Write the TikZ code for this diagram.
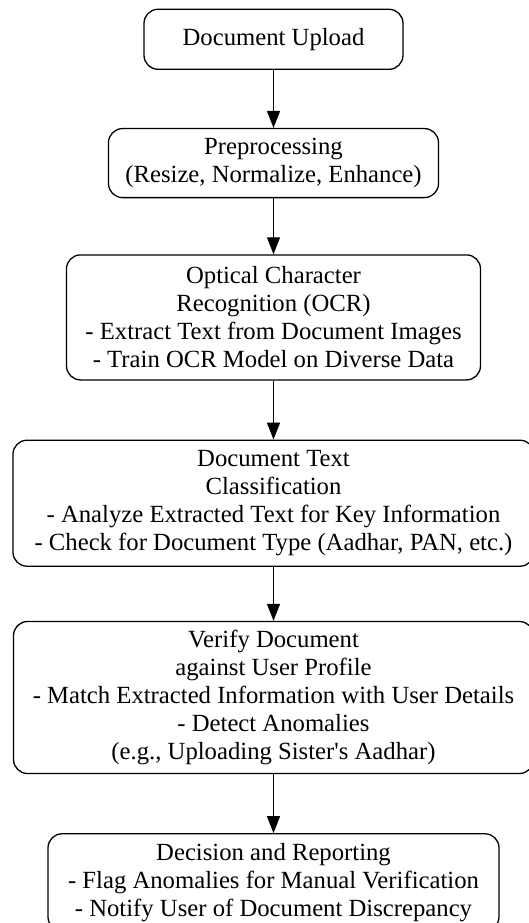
\documentclass[tikz,border=0pt]{standalone}
\usepackage{fontspec}
\setmainfont{Liberation Serif}
\usetikzlibrary{positioning,arrows.meta}

\begin{document}
\begin{tikzpicture}[
    x=1pt, y=1pt,
    stage/.style={draw, line width=1.3pt, rounded corners=14pt, align=center,
        inner sep=6pt, font=\fontsize{24.7}{28}\selectfont},
    flow/.style={-{Triangle[length=17pt,width=13pt]}, line width=1.3pt}
]
    % Fix the page to the size of the reference
    \useasboundingbox (0,0) rectangle (529,-923);

    % The stages, top to bottom
    \node[stage, minimum width=259pt, minimum height=60pt] (upload) at (273.5,-39.3) {Document Upload};
    \node[stage, minimum width=330pt, minimum height=69pt, below=58pt of upload] (preproc)
        {Preprocessing\\(Resize, Normalize, Enhance)};
    \node[stage, minimum width=414pt, minimum height=125pt, below=56pt of preproc] (ocr)
        {Optical Character\\Recognition (OCR)\\- Extract Text from Document Images\\- Train OCR Model on Diverse Data};
    \node[stage, minimum width=521pt, minimum height=126pt, below=59pt of ocr] (classify)
        {Document Text\\Classification\\- Analyze Extracted Text for Key Information\\- Check for Document Type (Aadhar, PAN, etc.)};
    \node[stage, minimum width=520pt, minimum height=152pt, below=54pt of classify] (verify)
        {Verify Document\\against User Profile\\- Match Extracted Information with User Details\\- Detect Anomalies\\(e.g., Uploading Sister\textquotesingle s Aadhar)};
    \node[stage, minimum width=451pt, minimum height=97pt, below=59pt of verify] (decision)
        {Decision and Reporting\\- Flag Anomalies for Manual Verification\\- Notify User of Document Discrepancy};

    % Connectors
    \foreach \a/\b in {upload/preproc, preproc/ocr, ocr/classify, classify/verify, verify/decision}
        \draw[flow] (\a) -- (\b);
\end{tikzpicture}
\end{document}
